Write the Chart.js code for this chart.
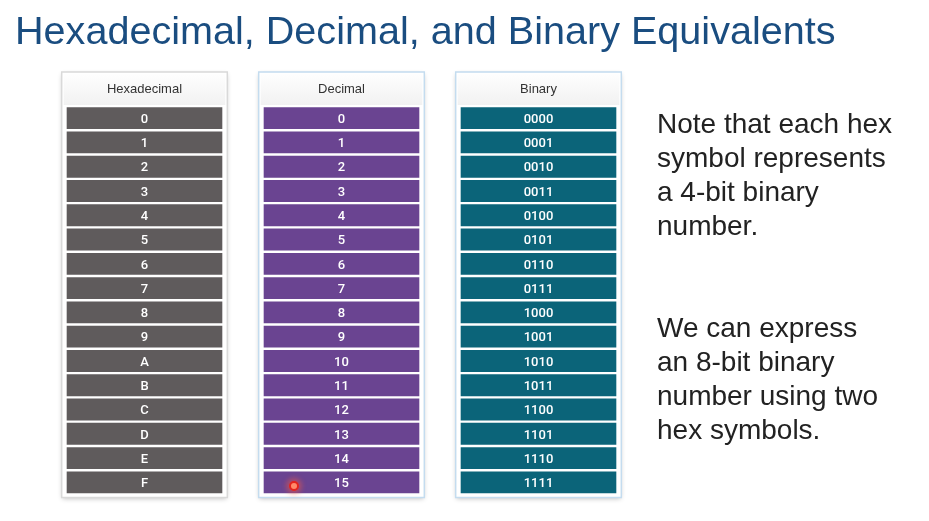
<!DOCTYPE html>
<html><head><meta charset="utf-8">
<script src="https://cdn.jsdelivr.net/npm/chart.js@4.4.1/dist/chart.umd.min.js"></script>
<style>
html,body{margin:0;padding:0;background:#fff;}
#wrap{position:relative;width:929px;height:521px;overflow:hidden;background:#fff;}
#c{position:absolute;left:0;top:0;}
.title{position:absolute;left:15px;top:10px;font:39.6px/40px "Liberation Sans",Arial,sans-serif;color:#1a4d80;white-space:nowrap;}
.note{position:absolute;left:657px;font:28px/34px "Liberation Sans",Arial,sans-serif;color:#222;white-space:nowrap;}
.dot{position:absolute;left:289px;top:481px;width:6px;height:6px;border:2px solid #e3241d;background:#ff8a6a;border-radius:50%;box-shadow:0 0 5px 3px rgba(255,90,60,0.45);}
</style></head><body>
<div id="wrap">
<canvas id="c" width="929" height="521"></canvas>
<div class="title">Hexadecimal, Decimal, and Binary Equivalents</div>
<div class="note" style="top:107px">Note that each hex<br>symbol represents<br>a 4-bit binary<br>number.</div>
<div class="note" style="top:311px">We can express<br>an 8-bit binary<br>number using two<br>hex symbols.</div>
<div class="dot"></div>
</div>
<script>
// ---- data ----
const columnNames = ['Hexadecimal', 'Decimal', 'Binary'];
const hexValues = ['0','1','2','3','4','5','6','7','8','9','A','B','C','D','E','F'];
const decValues = ['0','1','2','3','4','5','6','7','8','9','10','11','12','13','14','15'];
const binValues = ['0000','0001','0010','0011','0100','0101','0110','0111','1000','1001','1010','1011','1100','1101','1110','1111'];

// ---- styling ----
const colFill = ['#5f5b5c', '#6a4491', '#0b6479'];
const panelBorder = ['#d9d9d9', '#c4dcef', '#c4dcef'];
const colText = [hexValues, decValues, binValues];
const GAP = 0.05;
const rowIdx = hexValues.map((_, i) => i);
function cells(name) { return rowIdx.map(i => ({ x: name, y: [i + GAP, i + 1 - GAP] })); }

const panelPlugin = {
  id: 'panels',
  beforeDatasetsDraw(chart) {
    const { ctx, chartArea } = chart;
    chart.data.datasets.forEach((ds, c) => {
      const el = chart.getDatasetMeta(c).data[0];
      const half = el.width / 2;
      const left = el.x - half - 5, right = el.x + half + 5;
      const top = chartArea.top - 34, bottom = chartArea.bottom + 3;
      ctx.save();
      ctx.shadowColor = 'rgba(0,0,0,0.28)';
      ctx.shadowBlur = 5;
      ctx.shadowOffsetY = 1.5;
      ctx.fillStyle = '#fff';
      ctx.fillRect(left, top, right - left, bottom - top);
      ctx.restore();
      ctx.save();
      ctx.strokeStyle = panelBorder[c];
      ctx.lineWidth = 1.5;
      ctx.strokeRect(left, top, right - left, bottom - top);
      const g = ctx.createLinearGradient(0, top, 0, chartArea.top);
      g.addColorStop(0, '#ffffff');
      g.addColorStop(1, '#f1f1f1');
      ctx.fillStyle = g;
      ctx.fillRect(left + 2, top + 2, right - left - 4, chartArea.top - top - 3);
      ctx.fillStyle = '#333';
      ctx.font = '13px "Liberation Sans", Arial, sans-serif';
      ctx.textAlign = 'center';
      ctx.textBaseline = 'middle';
      ctx.fillText(chart.data.labels[c], el.x, (top + chartArea.top) / 2);
      ctx.restore();
    });
  }
};

const textPlugin = {
  id: 'cellText',
  afterDatasetsDraw(chart) {
    const { ctx } = chart;
    ctx.save();
    ctx.fillStyle = '#ffffff';
    ctx.font = '500 13px Roboto, "Liberation Sans", sans-serif';
    ctx.textAlign = 'center';
    ctx.textBaseline = 'middle';
    chart.data.datasets.forEach((ds, c) => {
      chart.getDatasetMeta(c).data.forEach((el, i) => {
        ctx.fillText(colText[c][i], el.x, (el.y + el.base) / 2 + 1.5);
      });
    });
    ctx.restore();
  }
};

new Chart(document.getElementById('c'), {
  type: 'bar',
  data: {
    labels: columnNames,
    datasets: columnNames.map((name, c) => ({
      label: name,
      data: cells(name),
      backgroundColor: colFill[c],
      grouped: false,
      barPercentage: 0.79,
      categoryPercentage: 1,
      borderWidth: 0
    }))
  },
  options: {
    responsive: false,
    animation: false,
    layout: { padding: { left: 46, right: 292, top: 106, bottom: 26.5 } },
    scales: {
      x: { type: 'category', display: false, offset: true },
      y: { type: 'linear', display: false, min: 0, max: hexValues.length, reverse: true }
    },
    plugins: { legend: { display: false }, tooltip: { enabled: false }, title: { display: false } }
  },
  plugins: [panelPlugin, textPlugin]
});
</script>
</body></html>
